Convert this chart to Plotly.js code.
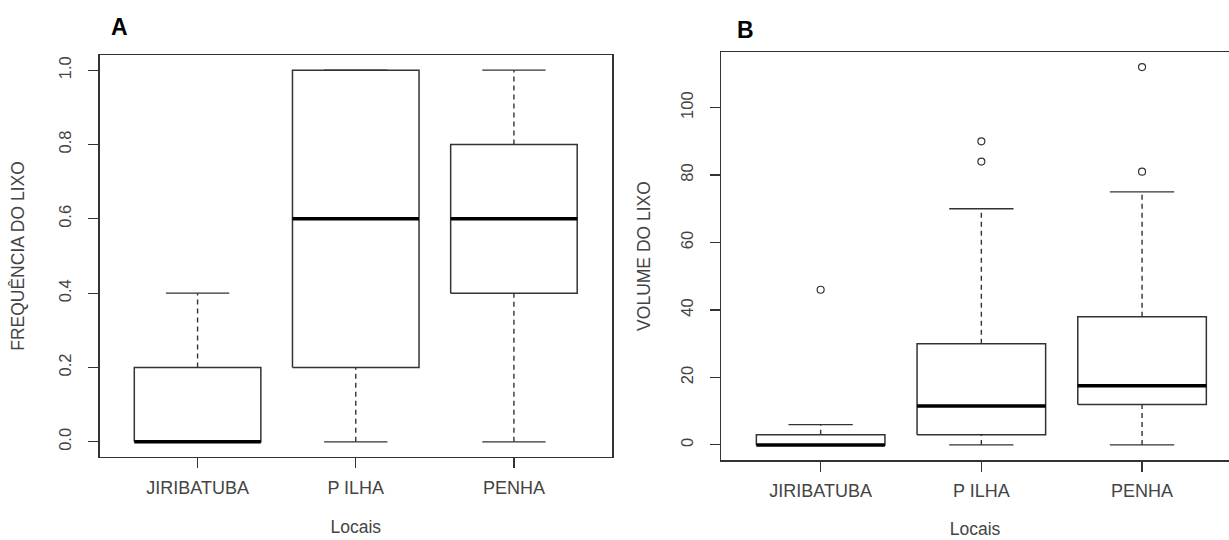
<!DOCTYPE html>
<html>
<head>
<meta charset="utf-8">
<script src="https://cdn.plot.ly/plotly-3.0.1.min.js"></script>
<style>html,body{margin:0;padding:0;background:#fff;}#chart{width:1229px;height:540px;}</style>
</head>
<body>
<div id="chart"></div>
<script>
// ---- Data ----
const locais = ['JIRIBATUBA', 'P ILHA', 'PENHA'];

// Panel A: FREQUÊNCIA DO LIXO
const freqMin = [0, 0, 0];
const freqQ1  = [0, 0.2, 0.4];
const freqMed = [0, 0.6, 0.6];
const freqQ3  = [0.2, 1.0, 0.8];
const freqMax = [0.4, 1.0, 1.0];
const freqOut = [[], [], []];

// Panel B: VOLUME DO LIXO
const volMin = [0, 0, 0];
const volQ1  = [0, 3, 12];
const volMed = [0, 11.5, 17.5];
const volQ3  = [3, 30, 38];
const volMax = [6, 70, 75];
const volOut = [[46], [84, 90], [81, 112]];

const yTicksA = [0, 0.2, 0.4, 0.6, 0.8, 1.0];
const yTickTextA = ['0.0', '0.2', '0.4', '0.6', '0.8', '1.0'];
const yTicksB = [0, 20, 40, 60, 80, 100];

// ---- Styling ----
const LINE = '#333333';
const TXT = '#444444';
const FONT = 'Liberation Sans, Arial, sans-serif';
const BOXW = 0.4;   // half box width
const CAPW = 0.2;   // half staple width

function boxTraces(mins, q1, med, q3, maxs, outs, xa, ya) {
  const pos = locais.map((_, i) => i + 1);
  const bx = [], by = [], mx = [], my = [], wx = [], wy = [], cx = [], cy = [], ox = [], oy = [];
  pos.forEach((p, i) => {
    bx.push(p - BOXW, p + BOXW, p + BOXW, p - BOXW, p - BOXW, null);
    by.push(q1[i], q1[i], q3[i], q3[i], q1[i], null);
    mx.push(p - BOXW, p + BOXW, null);
    my.push(med[i], med[i], null);
    wx.push(p, p, null, p, p, null);
    wy.push(q3[i], maxs[i], null, mins[i], q1[i], null);
    cx.push(p - CAPW, p + CAPW, null, p - CAPW, p + CAPW, null);
    cy.push(maxs[i], maxs[i], null, mins[i], mins[i], null);
    outs[i].forEach(v => { ox.push(p); oy.push(v); });
  });
  const base = {xaxis: xa, yaxis: ya, type: 'scatter', hoverinfo: 'skip', showlegend: false};
  return [
    Object.assign({}, base, {x: wx, y: wy, mode: 'lines', line: {color: LINE, width: 1.4, dash: '5px,4px'}}),
    Object.assign({}, base, {x: cx, y: cy, mode: 'lines', line: {color: LINE, width: 1.4}}),
    Object.assign({}, base, {x: bx, y: by, mode: 'lines', line: {color: LINE, width: 1.5}}),
    Object.assign({}, base, {x: mx, y: my, mode: 'lines', line: {color: '#000', width: 3.5}}),
    Object.assign({}, base, {x: ox, y: oy, mode: 'markers', marker: {symbol: 'circle-open', size: 7, color: LINE, line: {width: 1.2, color: LINE}}})
  ];
}

const data = [].concat(
  boxTraces(freqMin, freqQ1, freqMed, freqQ3, freqMax, freqOut, 'x', 'y'),
  boxTraces(volMin, volQ1, volMed, volQ3, volMax, volOut, 'x2', 'y2')
);

const W = 1229, H = 540;
const xAxisBase = {
  tickmode: 'array', tickvals: [1, 2, 3], ticktext: locais,
  ticks: 'outside', ticklen: 10, tickwidth: 1.2, tickcolor: LINE,
  showline: true, linecolor: LINE, linewidth: 1.5, mirror: true,
  showgrid: false, zeroline: false, fixedrange: true,
  tickfont: {family: FONT, size: 18, color: TXT},
  ticklabelstandoff: 4
};
const yAxisBase = {
  ticks: 'outside', ticklen: 10, tickwidth: 1.2, tickcolor: LINE,
  showline: true, linecolor: LINE, linewidth: 1.5,
  showgrid: false, zeroline: false, fixedrange: true,
  tickangle: -90,
  tickfont: {family: FONT, size: 16.5, color: TXT},
  ticklabelstandoff: 10
};

const layout = {
  width: W, height: H,
  margin: {l: 0, r: 0, t: 0, b: 0},
  paper_bgcolor: '#fff', plot_bgcolor: '#fff',
  showlegend: false,
  xaxis: Object.assign({}, xAxisBase, {
    domain: [99.5 / W, 612 / W], range: [0.38, 3.62], anchor: 'y',
    title: {text: 'Locais', font: {family: FONT, size: 17.5, color: TXT}, standoff: 24}
  }),
  yaxis: Object.assign({}, yAxisBase, {
    domain: [1 - 456.7 / H, 1 - 55.3 / H], range: [-0.04, 1.04], anchor: 'x', mirror: true,
    tickmode: 'array', tickvals: yTicksA, ticktext: yTickTextA,
    title: {text: 'FREQUÊNCIA DO LIXO', font: {family: FONT, size: 17.5, color: TXT}, standoff: 27}
  }),
  xaxis2: Object.assign({}, xAxisBase, {
    domain: [721 / W, 1], range: [0.38, 3.541], anchor: 'y2',
    title: {text: 'Locais', font: {family: FONT, size: 17.5, color: TXT}, standoff: 22}
  }),
  yaxis2: Object.assign({}, yAxisBase, {
    domain: [1 - 460 / H, 1 - 52 / H], range: [-4.48, 116.48], anchor: 'x2', mirror: false,
    tickmode: 'array', tickvals: yTicksB,
    title: {text: 'VOLUME DO LIXO', font: {family: FONT, size: 17.5, color: TXT}, standoff: 23}
  }),
  annotations: [
    {text: '<b>A</b>', xref: 'paper', yref: 'paper', x: 119 / W, y: 1 - 27 / H, xanchor: 'center', yanchor: 'middle', showarrow: false, font: {family: FONT, size: 23, color: '#000'}},
    {text: '<b>B</b>', xref: 'paper', yref: 'paper', x: 745 / W, y: 1 - 30 / H, xanchor: 'center', yanchor: 'middle', showarrow: false, font: {family: FONT, size: 23, color: '#000'}}
  ]
};

Plotly.newPlot('chart', data, layout, {staticPlot: true, displayModeBar: false});
</script>
</body>
</html>
